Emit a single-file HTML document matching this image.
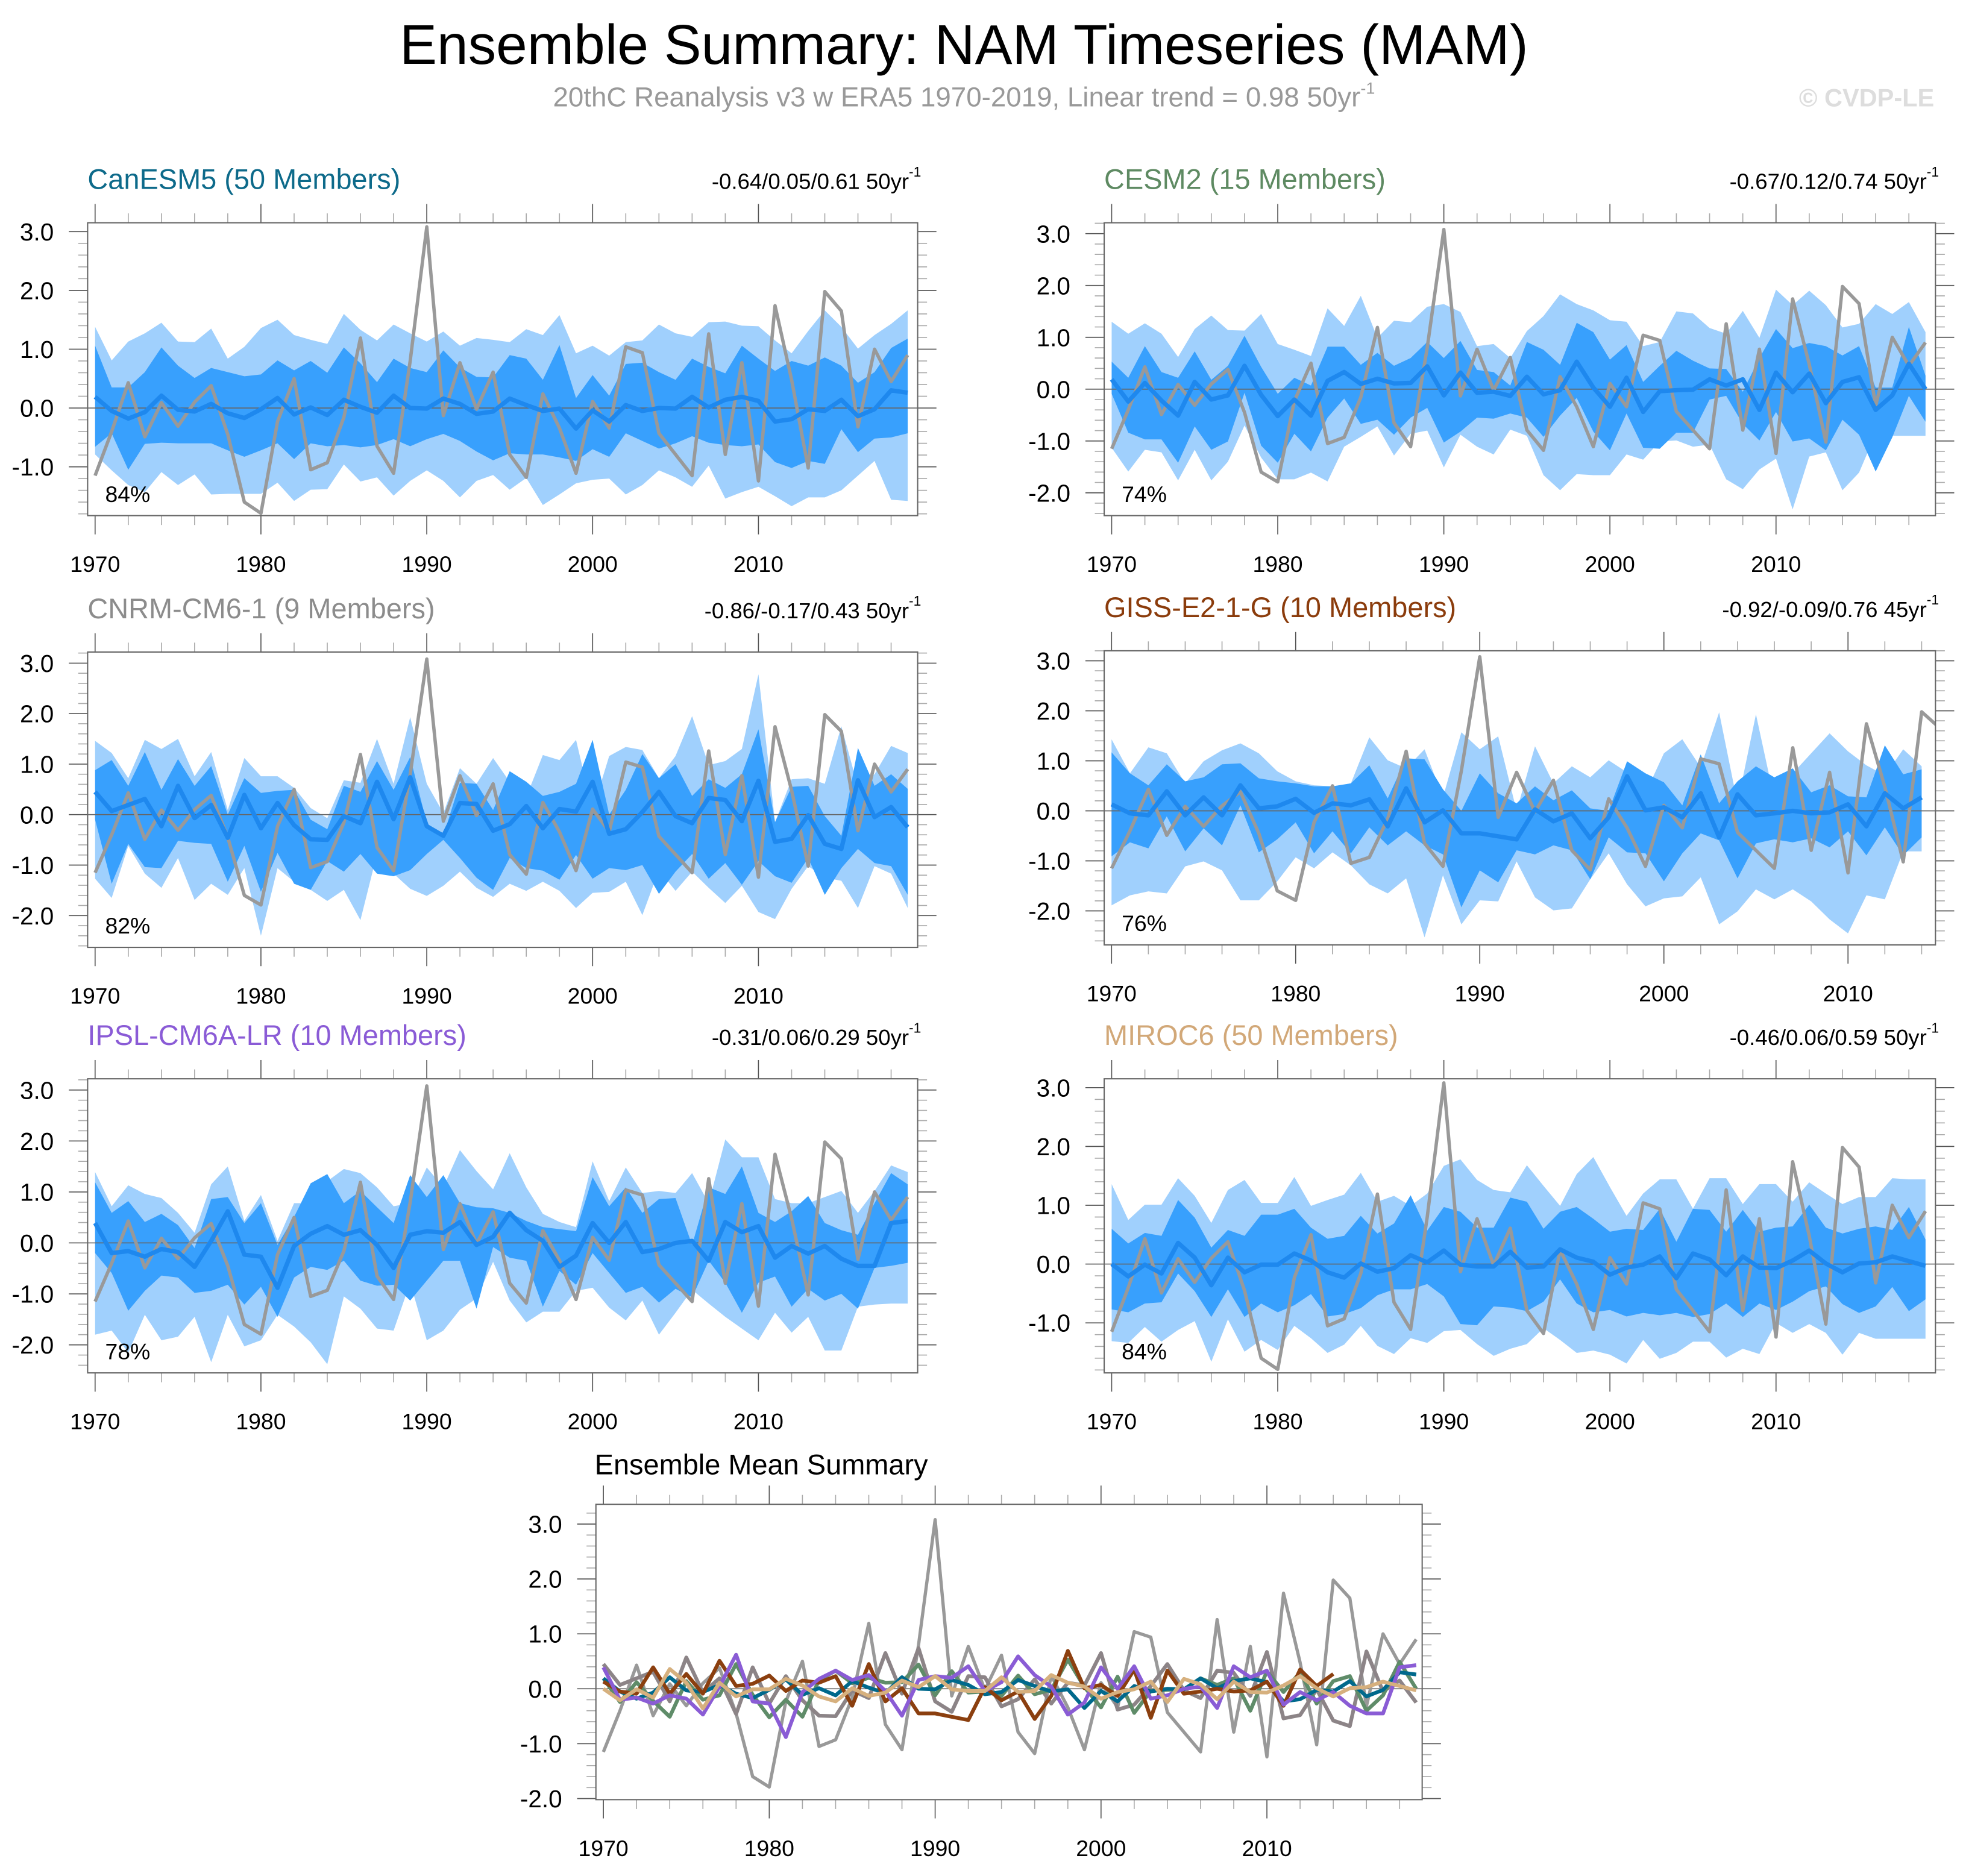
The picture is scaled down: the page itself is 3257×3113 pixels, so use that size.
<!DOCTYPE html>
<html><head><meta charset="utf-8">
<style>
html,body{margin:0;padding:0;background:#fff;}
svg{display:block;font-family:"Liberation Sans",Arial,sans-serif;}
</style></head>
<body>
<svg id="fig" width="3257" height="3113" viewBox="0 0 1568 1499" preserveAspectRatio="none" xmlns="http://www.w3.org/2000/svg">
<rect x="0" y="0" width="1568" height="1499" fill="#fff"/>
<text x="770" y="51" font-size="44.7" text-anchor="middle" fill="#000">Ensemble Summary: NAM Timeseries (MAM)</text>
<text x="770" y="85" font-size="22" text-anchor="middle" fill="#999">20thC Reanalysis v3 w ERA5 1970-2019, Linear trend = 0.98 50yr<tspan font-size="13" dy="-10">-1</tspan></text>
<text x="1545" y="85" font-size="20" font-weight="bold" text-anchor="end" fill="#ddd">© CVDP-LE</text>
<g id="plots"></g>
</svg>
<script>
const years = [];
for (let y = 1970; y <= 2019; y++) years.push(y);
const obs = [-1.15,-0.4,0.43,-0.49,0.09,-0.31,0.1,0.38,-0.45,-1.6,
 -1.79,-0.23,0.5,-1.05,-0.93,-0.16,1.19,-0.65,-1.11,0.8,
 3.08,-0.13,0.77,-0.02,0.61,-0.79,-1.18,0.24,-0.34,-1.11,
 0.11,-0.34,1.04,0.94,-0.43,-0.79,-1.15,1.26,-0.79,0.77,
 -1.24,1.74,0.48,-1.02,1.98,1.65,-0.32,1.0,0.45,0.9];

const canMean = [0.19,-0.05,-0.18,-0.07,0.21,-0.03,-0.06,0.07,-0.09,-0.17,
 -0.02,0.17,-0.11,0.01,-0.12,0.14,0.02,-0.08,0.21,0,
 -0.01,0.16,0.07,-0.1,-0.06,0.16,0.05,-0.05,-0.01,-0.35,
 -0.04,-0.23,0.05,-0.05,0,-0.01,0.19,0.01,0.14,0.19,
 0.12,-0.23,-0.19,-0.02,-0.05,0.14,-0.14,-0.02,0.3,0.26];
const canOuterHi = [1.38,0.81,1.13,1.27,1.45,1.13,1.12,1.35,0.84,1.04,
 1.36,1.5,1.24,1.16,1.09,1.6,1.33,1.15,1.42,1.27,
 1.13,1.3,1.06,1.19,1.16,1.12,1.34,1.24,1.58,0.93,
 1.06,0.89,1.12,1.15,1.42,1.27,1.21,1.46,1.47,1.4,
 1.39,1.15,0.93,1.31,1.66,1.38,1.01,1.24,1.43,1.66];
const canInnerHi = [1.06,0.35,0.35,0.61,1.03,0.72,0.51,0.68,0.61,0.54,
 0.57,0.81,0.64,0.8,0.6,1.03,0.76,0.44,0.84,0.68,
 0.61,0.98,0.69,0.53,0.52,0.9,0.84,0.48,1.07,0.17,
 0.56,0.21,0.75,0.77,0.61,0.48,0.84,0.7,0.59,1.06,
 0.84,0.63,0.8,0.72,0.86,0.72,0.43,0.61,1.02,1.18];
const canInnerLo = [-0.66,-0.43,-1.05,-0.61,-0.59,-0.6,-0.6,-0.6,-0.72,-0.83,
 -0.72,-0.6,-0.87,-0.6,-0.65,-0.63,-0.67,-0.63,-0.53,-0.65,
 -0.53,-0.44,-0.56,-0.74,-0.89,-0.77,-0.79,-0.79,-0.84,-0.9,
 -0.7,-0.83,-0.43,-0.56,-0.69,-0.6,-0.48,-0.59,-0.63,-0.65,
 -0.62,-0.92,-1.02,-0.9,-0.95,-0.36,-0.75,-0.52,-0.5,-0.43];
const canOuterLo = [-0.79,-1.06,-1.31,-1.43,-1.09,-1.31,-1.13,-1.47,-1.46,-1.46,
 -1.46,-1.27,-1.58,-1.39,-1.38,-0.96,-1.25,-1.18,-1.49,-1.24,
 -1.06,-1.24,-1.52,-1.24,-1.14,-1.39,-1.19,-1.65,-1.47,-1.28,
 -1.22,-1.2,-1.47,-1.31,-1.06,-1.18,-1.34,-0.98,-1.54,-1.43,
 -1.34,-1.5,-1.67,-1.52,-1.52,-1.4,-1.15,-0.9,-1.56,-1.58];

const cesmMean = [0.19,-0.24,0.12,-0.22,-0.51,0.14,-0.2,-0.12,0.45,-0.11,
 -0.52,-0.2,-0.51,0.16,0.33,0.1,0.2,0.11,0.12,0.44,
 -0.12,0.32,-0.07,-0.05,-0.13,0.24,-0.1,-0.02,0.53,0.03,
 -0.34,0.22,-0.44,-0.04,-0.02,-0.01,0.19,0.07,0.19,-0.4,
 0.32,-0.06,0.3,-0.27,0.14,0.23,-0.4,-0.12,0.49,0];
const cesmOuterHi = [1.3,1.07,1.27,1.07,0.62,1.16,1.42,1.14,1.13,1.45,
 0.87,0.76,0.64,1.56,1.22,1.8,0.99,1.32,1.29,1.59,
 1.64,1.49,0.83,0.87,0.6,1.12,1.41,1.83,1.64,1.52,
 1.33,1.3,0.83,0.91,1.5,1.46,1.18,1.07,1.51,0.99,
 1.92,1.62,1.9,1.62,1.19,1.26,1.64,1.45,1.68,1.1];
const cesmInnerHi = [0.53,0.22,0.83,0.33,0.22,0.73,0.18,0.45,1.03,0.43,
 -0.09,0.22,0.07,0.82,0.82,0.47,0.7,0.45,0.6,0.91,
 0.6,0.93,0.37,0.33,0.07,0.91,0.76,0.47,1.28,1.1,
 0.57,0.85,0.14,0.45,0.74,0.55,0.4,0.39,-0.05,0.6,
 1.16,0.79,0.89,0.83,0.65,0.83,0.03,0.03,1.2,0.26];
const cesmInnerLo = [-0.09,-0.84,-0.97,-0.97,-1.42,-0.72,-1.17,-1.01,-0.07,-1.09,
 -1.42,-0.86,-1.2,-0.55,-0.18,-0.67,-0.59,-0.88,-0.55,-0.36,
 -1.03,-0.82,-0.55,-0.57,-0.47,-0.55,-0.92,-0.51,-0.17,-0.82,
 -1.18,-0.47,-1.13,-1.15,-0.84,-0.84,-0.2,-0.13,-0.67,-0.99,
 -0.44,-1.01,-0.95,-1.18,-0.59,-0.88,-1.59,-0.93,-0.13,-0.63];
const cesmOuterLo = [-1.13,-1.59,-1.17,-1.22,-1.76,-1.17,-1.76,-1.4,-0.7,-1.32,
 -1.74,-1.74,-1.61,-1.78,-1.11,-0.92,-0.72,-1.28,-0.86,-0.8,
 -1.51,-0.88,-1.11,-1.26,-0.78,-0.9,-1.66,-1.95,-1.64,-1.66,
 -1.66,-1.26,-1.36,-1.01,-0.99,-1.11,-1.07,-1.74,-1.93,-1.55,
 -1.34,-2.32,-1.3,-1.22,-1.95,-1.61,-0.86,-0.9,-0.9,-0.9];

const cnrmMean = [0.45,0.07,0.19,0.31,-0.23,0.57,-0.07,0.19,-0.46,0.39,
 -0.27,0.23,-0.21,-0.49,-0.5,-0.03,-0.17,0.65,-0.09,0.74,
 -0.23,-0.42,0.23,0.21,-0.32,-0.19,0.17,-0.27,0.11,0.06,
 0.65,-0.38,-0.29,0.05,0.45,-0.03,-0.17,0.33,0.29,-0.13,
 0.67,-0.54,-0.48,-0.01,-0.58,-0.68,0.68,-0.05,0.15,-0.25];
const cnrmOuterHi = [1.46,1.22,0.72,1.48,1.3,1.5,0.76,1.24,0.09,1.12,
 0.76,0.76,0.53,0.13,-0.07,0.68,0.63,1.5,0.61,1.93,
 0.61,0.03,0.92,0.61,1.12,0.65,0.35,1.18,1.08,1.48,
 0.09,1.16,1.34,1.28,0.72,1.16,1.95,0.98,1.06,1.3,
 2.78,-0.15,0.7,0.72,0.61,1.75,0.55,0.8,1.36,1.22];
const cnrmInnerHi = [0.88,1.08,0.57,1.24,0.49,1.1,0.57,0.96,0,0.72,
 0.43,0.47,0.49,-0.1,-0.29,0.57,0.45,1.06,0.49,1.14,
 -0.17,-0.42,0.63,0.61,0.09,0.86,0.65,0.37,0.45,0.61,
 1.48,0,0.49,1.2,0.72,1.0,0.37,0.7,0.53,0.8,
 1.69,-0.15,0.55,0.57,-0.03,-0.42,1.32,0.57,0.8,0.51];
const cnrmInnerLo = [-0.1,-1.37,-0.58,-1.04,-1.06,-0.52,-0.56,-0.58,-1.33,-0.62,
 -1.53,-0.76,-1.37,-1.49,-0.92,-1.13,-0.78,-1.17,-1.22,-1.1,
 -0.78,-0.5,-0.86,-1.25,-1.49,-0.86,-1.06,-1.11,-1.29,-0.8,
 -1.27,-1.06,-1.1,-1.0,-1.57,-1.13,-0.78,-1.27,-0.96,-1.39,
 -0.92,-1.22,-1.35,-0.86,-1.59,-1.06,-0.68,-0.96,-1.02,-1.59];
const cnrmOuterLo = [-1.27,-1.65,-0.62,-1.17,-1.45,-0.86,-1.69,-1.37,-1.59,-1.06,
 -2.4,-1.06,-1.33,-1.49,-1.71,-1.49,-2.09,-0.78,-1.17,-1.47,
 -1.61,-1.41,-1.13,-1.45,-1.63,-1.37,-1.51,-1.33,-1.51,-1.85,
 -1.55,-1.53,-1.33,-1.99,-1.1,-1.51,-1.13,-1.45,-1.75,-1.41,
 -1.93,-2.07,-1.47,-1.02,-1.25,-1.31,-1.85,-1.02,-1.17,-1.85];

const gissMean = [0.13,-0.05,-0.09,0.39,-0.09,0.27,-0.09,0.51,0.05,0.09,
 0.24,-0.04,0.15,0.11,0.23,-0.31,0.45,-0.23,0.01,-0.45,
 -0.45,-0.51,-0.57,0.03,-0.21,-0.05,-0.55,-0.13,0.69,0.01,
 0.07,-0.13,0.35,-0.53,0.33,-0.09,-0.05,0,-0.05,-0.03,
 0.13,-0.31,0.35,0.05,0.27];
const gissOuterHi = [1.43,0.75,1.27,1.15,0.55,0.99,1.21,1.35,1.15,0.79,
 0.59,0.51,0.49,0.55,1.47,1.01,0.85,1.23,0.27,1.57,
 1.23,1.49,0,1.29,0.55,0.89,0.67,1.01,0.77,0.35,
 1.15,1.43,0.87,1.97,0.15,1.93,0.23,0.75,1.15,1.55,
 1.19,0.91,0.71,1.23,0.89];
const gissInnerHi = [1.17,0.75,0.51,0.93,0.59,0.67,0.93,0.95,0.65,0.59,
 0.55,0.49,0.49,0.55,0.91,0.25,1.05,1.03,0.43,0,
 0.75,0.35,0.15,0.49,0.21,0.41,0.05,0,0.99,0.75,
 0.57,0.11,1.13,0.15,0.59,0.89,0.67,0.85,0.37,0.51,
 0.29,0.27,1.31,0.73,0.83];
const gissInnerLo = [-0.91,-0.63,-0.75,-0.11,-0.81,-0.35,-0.69,0.11,-0.83,-0.57,
 -0.23,-0.85,-0.41,-0.85,-0.33,-0.69,-0.41,-0.69,-0.87,-1.93,
 -1.19,-1.43,-0.79,-0.87,-0.69,-0.79,-1.37,-0.53,-0.83,-0.85,
 -1.41,-0.85,-0.45,-0.59,-1.35,-0.65,-0.57,-0.63,-0.55,-0.73,
 -0.41,-0.89,-0.33,-0.89,-0.53];
const gissOuterLo = [-1.89,-1.69,-1.61,-1.65,-1.11,-1.01,-1.19,-1.79,-1.79,-1.41,
 -0.93,-1.15,-0.83,-1.09,-1.47,-1.65,-1.35,-2.53,-1.29,-2.27,
 -1.79,-1.81,-1.01,-1.73,-1.99,-1.95,-1.37,-0.85,-1.47,-1.91,
 -1.75,-1.71,-1.33,-2.27,-2.01,-1.57,-1.77,-1.57,-1.81,-2.17,
 -2.45,-1.69,-1.77,-0.81,-0.81];

const ipslMean = [0.39,-0.2,-0.16,-0.27,-0.12,-0.18,-0.47,0.04,0.62,-0.23,
 -0.27,-0.88,-0.06,0.18,0.33,0.16,0.25,-0.04,-0.49,0.16,
 0.23,0.2,0.41,-0.04,0.12,0.59,0.25,0.04,-0.47,-0.25,
 0.39,0,0.41,-0.18,-0.12,0,0.04,-0.35,0.41,0.21,
 0.33,-0.29,-0.06,-0.21,-0.06,-0.31,-0.45,-0.45,0.39,0.43];
const ipslOuterHi = [1.39,0.72,1.13,0.96,0.88,0.59,0.2,1.15,1.5,0.43,
 0.94,0.04,0.78,0.78,1.21,1.45,1.37,1.09,0.72,0.78,
 1.48,1.09,1.82,1.41,1.05,1.76,1.09,0.57,0.41,0.31,
 1.6,0.82,1.48,0.98,1.02,0.98,1.37,0.78,2.03,1.68,
 1.68,0.86,0.78,0.78,0.9,1.02,0.59,1.02,1.52,1.39];
const ipslInnerHi = [1.19,0.59,0.82,0.41,0.57,0.35,-0.1,0.86,0.9,0.39,
 0.78,-0.04,0.51,1.17,1.35,0.78,1.02,0.7,0.39,1.33,
 0.9,1.33,0.78,0.7,0.68,0.59,0.43,0.31,0.27,0.23,
 1.29,0.72,1.09,0.59,0.86,0.88,-0.04,1.09,0.96,1.5,
 0.59,0.41,0.62,0.92,0.39,0.25,0.16,0.78,1.37,1.15];
const ipslInnerLo = [-0.2,-0.59,-1.33,-0.94,-0.64,-0.68,-0.98,-0.94,-0.82,-1.21,
 -0.86,-1.45,-0.68,-0.47,-0.53,-0.35,-0.74,-0.84,-0.82,-1.13,
 -0.74,-0.35,-0.35,-1.29,-0.08,-0.29,-0.35,-1.25,-0.55,-0.82,
 -0.2,-0.59,-0.98,-0.86,-1.17,-0.9,-1.07,-0.35,-0.78,-1.37,
 -0.78,-0.66,-1.25,-0.9,-1.13,-1.0,-1.29,-0.49,-0.45,-0.39];
const ipslOuterLo = [-1.8,-1.72,-2.15,-1.41,-1.91,-1.84,-1.45,-2.34,-1.41,-2.03,
 -1.91,-1.41,-1.64,-1.95,-2.38,-1.05,-1.29,-1.68,-1.72,-0.78,
 -1.91,-1.72,-1.31,-1.09,-0.37,-1.13,-1.56,-1.35,-1.35,-0.94,
 -0.88,-1.27,-1.52,-1.13,-1.8,-1.37,-0.92,-1.19,-1.45,-1.68,
 -1.91,-1.37,-1.76,-1.45,-2.11,-2.11,-1.25,-1.21,-1.19,-1.19];

const mirocMean = [0,-0.21,-0.01,-0.16,0.36,0.11,-0.36,0.11,-0.14,-0.01,
 -0.01,0.18,0.06,-0.14,-0.23,0.01,-0.13,-0.07,0.15,0.03,
 0.23,-0.01,-0.04,-0.04,0.21,-0.06,-0.04,0.25,0.11,0.04,
 -0.18,-0.06,-0.01,0.13,-0.24,0.18,0.08,-0.19,0.13,-0.06,
 -0.07,0.06,0.23,0.01,-0.14,0.01,0.03,0.13,0.05,-0.03];
const mirocOuterHi = [1.36,0.75,1.01,1.01,1.46,1.16,0.7,1.26,1.43,1.04,
 1.04,1.48,0.99,1.09,1.18,1.55,1.06,1.16,0.99,1.2,
 1.67,1.78,1.43,1.26,1.22,1.68,1.33,0.99,1.53,1.82,
 1.31,0.82,1.2,1.44,1.44,0.94,1.46,1.46,1.02,1.36,
 1.36,1.06,1.39,1.2,1.02,1.14,1.14,1.46,1.44,1.44];
const mirocInnerHi = [0.6,0.35,0.53,0.48,1.09,0.79,0.28,0.58,0.48,0.84,
 0.84,0.94,0.62,0.43,0.48,0.82,0.52,0.69,1.17,0.57,
 0.97,0.89,0.62,0.62,1.13,1.06,0.6,0.89,0.97,0.77,
 0.55,0.6,0.58,0.94,0.38,0.94,0.92,0.55,0.92,0.55,
 0.62,0.64,1.01,0.62,0.52,0.6,0.64,0.58,0.97,0.42];
const mirocInnerLo = [-0.77,-0.82,-0.67,-0.65,-0.16,-0.46,-0.9,-0.43,-0.9,-0.67,
 -0.82,-0.7,-0.51,-0.89,-0.85,-0.75,-0.53,-0.43,-0.43,-0.34,
 -0.55,-1.02,-1.04,-0.72,-0.74,-0.8,-0.64,-0.26,-0.67,-0.82,
 -0.78,-0.89,-0.83,-0.87,-0.83,-0.9,-0.85,-0.67,-0.9,-0.67,
 -0.78,-0.64,-0.46,-0.38,-0.68,-0.83,-0.72,-0.39,-0.8,-0.6];
const mirocOuterLo = [-1.31,-1.34,-1.07,-1.32,-1.12,-0.97,-1.66,-0.94,-1.49,-1.29,
 -1.46,-1.05,-1.26,-1.51,-1.37,-1.05,-1.39,-1.53,-1.26,-1.34,
 -1.14,-1.12,-1.36,-1.56,-1.44,-1.36,-1.09,-1.29,-1.51,-1.47,
 -1.54,-1.69,-1.29,-1.61,-1.51,-1.32,-1.32,-1.59,-1.44,-1.53,
 -1.0,-1.17,-1.02,-1.17,-1.54,-1.17,-1.27,-1.27,-1.27,-1.27];

const modelNames = ["CanESM5 (50 Members)","CESM2 (15 Members)","CNRM-CM6-1 (9 Members)","GISS-E2-1-G (10 Members)","IPSL-CM6A-LR (10 Members)","MIROC6 (50 Members)"];
const trendLabels = ["-0.64/0.05/0.61 50yr","-0.67/0.12/0.74 50yr","-0.86/-0.17/0.43 50yr","-0.92/-0.09/0.76 45yr","-0.31/0.06/0.29 50yr","-0.46/0.06/0.59 50yr"];
const pctLabels = ["84%","74%","82%","76%","78%","84%"];
const xTickYears = [1970,1980,1990,2000,2010];

const NS = "http://www.w3.org/2000/svg";
const root = document.getElementById("plots");
function mk(tag, attrs, parent) {
  const e = document.createElementNS(NS, tag);
  for (const k in attrs) e.setAttribute(k, attrs[k]);
  (parent || root).appendChild(e);
  return e;
}
const titleColors = ["#0d6a8a","#5e8a62","#8c8c8c","#8b3c0c","#8a5bd6","#d2a878"];
const lineColors = ["#00698c","#5f8c69","#8c8487","#8b3f0f","#8a5cd5","#d6b07e"];

const panels = [
  {box:[70,178,733,412], dom:[1969.55,2019.6], yr:[-1.83,3.15], n:50, d:[canMean,canOuterHi,canInnerHi,canInnerLo,canOuterLo]},
  {box:[882,178,1546,412], dom:[1969.55,2019.6], yr:[-2.44,3.21], n:50, d:[cesmMean,cesmOuterHi,cesmInnerHi,cesmInnerLo,cesmOuterLo]},
  {box:[70,521,733,757], dom:[1969.55,2019.6], yr:[-2.63,3.22], n:50, d:[cnrmMean,cnrmOuterHi,cnrmInnerHi,cnrmInnerLo,cnrmOuterLo]},
  {box:[882,520,1546,755], dom:[1969.6,2014.75], yr:[-2.68,3.2], n:45, d:[gissMean,gissOuterHi,gissInnerHi,gissInnerLo,gissOuterLo]},
  {box:[70,862,733,1097], dom:[1969.55,2019.6], yr:[-2.55,3.22], n:50, d:[ipslMean,ipslOuterHi,ipslInnerHi,ipslInnerLo,ipslOuterLo]},
  {box:[882,862,1546,1097], dom:[1969.55,2019.6], yr:[-1.85,3.15], n:50, d:[mirocMean,mirocOuterHi,mirocInnerHi,mirocInnerLo,mirocOuterLo]}
];

function axes(g, box, dom, yr, idx) {
  const [x0,y0,x1,y1] = box;
  const sx = v => x0 + (v - dom[0]) / (dom[1] - dom[0]) * (x1 - x0);
  const sy = v => y1 - (v - yr[0]) / (yr[1] - yr[0]) * (y1 - y0);
  const cid = "clip" + idx;
  const cp = mk("clipPath", {id: cid}, g);
  mk("rect", {x: x0, y: y0, width: x1 - x0, height: y1 - y0}, cp);
  return {sx, sy, cid};
}
function drawFrame(g, box, dom, yr, sx, sy) {
  const [x0,y0,x1,y1] = box;
  for (let y = 1970; y <= dom[1]; y += 2) {
    const major = (y % 10 === 0);
    const L = major ? 15 : 7.5, c = major ? "#555" : "#aaa";
    const xx = sx(y);
    const t1 = mk("line", {x1: xx, x2: xx, y1: y1, y2: y1 + L, stroke: c, "stroke-width": 0.8}, g);
    
    
    const t2 = mk("line", {x1: xx, x2: xx, y1: y0, y2: y0 - L, stroke: c, "stroke-width": 0.8}, g);
    
    
  }
  for (const y of xTickYears) {
    if (y > dom[1]) continue;
    const t = mk("text", {x: sx(y), y: y1 + 45, "font-size": 18, "text-anchor": "middle", fill: "#000"}, g);
    t.textContent = y;
    
    
  }
  const start = Math.ceil(yr[0] * 5 - 1e-6), end = Math.floor(yr[1] * 5 + 1e-6);
  for (let k = start; k <= end; k++) {
    const v = k / 5, major = (k % 5 === 0);
    const L = major ? 15 : 7.5, c = major ? "#555" : "#aaa";
    const yy = sy(v);
    const a = mk("line", {x1: x0, x2: x0 - L, y1: yy, y2: yy, stroke: c, "stroke-width": 0.8}, g);
    
    
    const b = mk("line", {x1: x1, x2: x1 + L, y1: yy, y2: yy, stroke: c, "stroke-width": 0.8}, g);
    
    
    if (major) {
      const t = mk("text", {x: x0 - 27, y: yy + 7, "font-size": 19.5, "text-anchor": "end", fill: "#000"}, g);
      t.textContent = (v).toFixed(1);
      
      
    }
  }
  const fr = mk("rect", {x: x0, y: y0, width: x1 - x0, height: y1 - y0, fill: "none", stroke: "#666", "stroke-width": 1}, g);
  
  
}
function pathOf(arr, sx, sy, yrs) {
  return arr.map((v, i) => (i ? "L" : "M") + sx(yrs[i]).toFixed(2) + "," + sy(v).toFixed(2)).join("");
}
function bandOf(hi, lo, sx, sy, n) {
  let s = "";
  for (let i = 0; i < n; i++) s += (i ? "L" : "M") + sx(years[i]).toFixed(2) + "," + sy(hi[i]).toFixed(2);
  for (let i = n - 1; i >= 0; i--) s += "L" + sx(years[i]).toFixed(2) + "," + sy(lo[i]).toFixed(2);
  return s + "Z";
}

panels.forEach((p, idx) => {
  const g = mk("g", {});
  
  
  const {sx, sy, cid} = axes(g, p.box, p.dom, p.yr, idx);
  const [x0,y0,x1,y1] = p.box;
  const [mean, oh, ih, il, ol] = p.d;
  const pg = mk("g", {"clip-path": "url(#" + cid + ")"}, g);
  const b1 = mk("path", {d: bandOf(oh, ol, sx, sy, p.n), fill: "#a0d0fd"}, pg);
  
  
  const b2 = mk("path", {d: bandOf(ih, il, sx, sy, p.n), fill: "#38a0fd"}, pg);
  
  
  const z = mk("line", {x1: x0, x2: x1, y1: sy(0), y2: sy(0), stroke: "#666", "stroke-width": 0.8}, pg);
  
  
  const o = mk("path", {d: pathOf(obs, sx, sy, years), fill: "none", stroke: "#999", "stroke-width": 2.7, "stroke-linejoin": "round"}, pg);
  
  
  const m = mk("path", {d: pathOf(mean.slice(0, p.n), sx, sy, years), fill: "none", stroke: "#1e88ee", "stroke-width": 3.5, "stroke-linejoin": "round"}, pg);
  
  
  drawFrame(g, p.box, p.dom, p.yr, sx, sy);
  const t = mk("text", {x: x0, y: y0 - 27, "font-size": 22.6, fill: titleColors[idx]}, g);
  t.textContent = modelNames[idx];
  
  
  const tr = mk("text", {x: x1 - 7, y: y0 - 27, "font-size": 17.6, "text-anchor": "end", fill: "#000"}, g);
  tr.textContent = trendLabels[idx];
  
  
  const sup = mk("text", {x: x1 - 7, y: y0 - 37, "font-size": 11, "text-anchor": "start", fill: "#000"}, g);
  sup.textContent = "-1";
  
  
  const pc = mk("text", {x: x0 + 14, y: y1 - 11, "font-size": 18, fill: "#000"}, g);
  pc.textContent = pctLabels[idx];
  
  
});

(function () {
  const box = [476, 1202, 1136, 1438], dom = [1969.55, 2019.36], yr = [-2.02, 3.36];
  const g = mk("g", {});
  
  
  const {sx, sy, cid} = axes(g, box, dom, yr, 9);
  const pg = mk("g", {"clip-path": "url(#" + cid + ")"}, g);
  const z = mk("line", {x1: box[0], x2: box[2], y1: sy(0), y2: sy(0), stroke: "#666", "stroke-width": 0.8}, pg);
  
  
  const o = mk("path", {d: pathOf(obs, sx, sy, years), fill: "none", stroke: "#999", "stroke-width": 2.6, "stroke-linejoin": "round"}, pg);
  
  
  const means = [cnrmMean, cesmMean, canMean, gissMean, ipslMean, mirocMean];
  const cols = [lineColors[2], lineColors[1], lineColors[0], lineColors[3], lineColors[4], lineColors[5]];
  means.forEach((arr, i) => {
    const l = mk("path", {d: pathOf(arr, sx, sy, years), fill: "none", stroke: cols[i], "stroke-width": 3, "stroke-linejoin": "round"}, pg);
    
    
  });
  drawFrame(g, box, dom, yr, sx, sy);
  const t = mk("text", {x: 475, y: 1178, "font-size": 22.6, fill: "#000"}, g);
  t.textContent = "Ensemble Mean Summary";
  
  
})();
</script>
</body></html>
